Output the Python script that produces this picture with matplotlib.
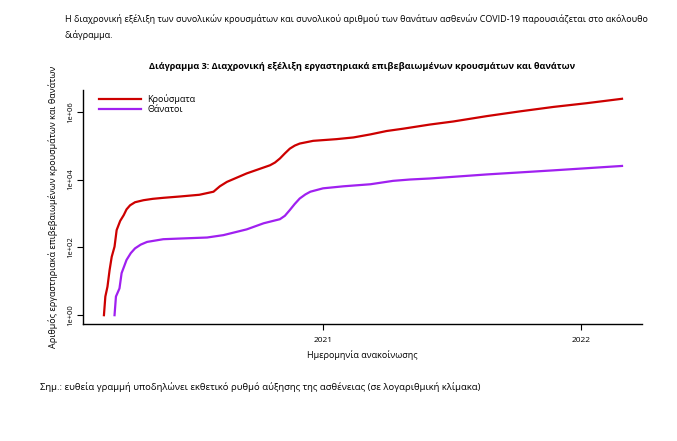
import numpy as np
import pandas as pd
import matplotlib
matplotlib.use("Agg")
import matplotlib.pyplot as plt

plt.rcParams['font.family'] = ['Open Sans', 'DejaVu Sans']

# cumulative confirmed cases (log10)
case_dates = ['2020-02-26', '2020-02-28', '2020-03-02', '2020-03-05', '2020-03-08',
              '2020-03-12', '2020-03-15', '2020-03-20', '2020-03-25', '2020-03-29',
              '2020-04-03', '2020-04-10', '2020-04-22', '2020-05-05', '2020-05-20',
              '2020-06-13', '2020-07-10', '2020-07-30', '2020-08-08', '2020-08-18',
              '2020-09-15', '2020-10-18', '2020-10-25', '2020-11-01', '2020-11-08',
              '2020-11-15', '2020-11-22', '2020-11-29', '2020-12-18',
              '2021-01-20', '2021-02-13', '2021-03-09', '2021-04-01', '2021-04-25',
              '2021-06-01', '2021-07-04', '2021-08-21', '2021-10-07', '2021-11-23',
              '2022-01-09', '2022-02-28']
case_log = [0.0, 0.55, 0.84, 1.33, 1.72,
            2.02, 2.51, 2.78, 2.95, 3.12,
            3.24, 3.33, 3.39, 3.43, 3.46,
            3.50, 3.55, 3.64, 3.80, 3.93,
            4.18, 4.42, 4.50, 4.62, 4.77,
            4.91, 5.00, 5.06, 5.14,
            5.19, 5.24, 5.33, 5.43, 5.50,
            5.62, 5.71, 5.87, 6.01, 6.14,
            6.25, 6.38]

# cumulative deaths (log10)
death_dates = ['2020-03-12', '2020-03-14', '2020-03-19', '2020-03-22', '2020-03-29',
               '2020-04-04', '2020-04-10', '2020-04-18', '2020-04-27', '2020-05-20',
               '2020-06-13', '2020-07-21', '2020-08-13', '2020-09-15', '2020-10-09',
               '2020-11-01', '2020-11-08', '2020-11-15', '2020-11-22', '2020-11-29',
               '2020-12-07', '2020-12-14', '2021-01-01', '2021-01-30', '2021-03-09',
               '2021-04-10', '2021-05-04', '2021-06-01', '2021-08-21', '2021-11-23',
               '2022-02-28']
death_log = [0.0, 0.55, 0.79, 1.24, 1.63,
             1.83, 1.97, 2.08, 2.16, 2.24,
             2.26, 2.29, 2.36, 2.53, 2.71,
             2.83, 2.93, 3.10, 3.28, 3.44,
             3.56, 3.64, 3.74, 3.80, 3.86,
             3.96, 4.00, 4.03, 4.15, 4.27,
             4.40]

ytick_vals = [1, 1e2, 1e4, 1e6]
ytick_labels = ['1e+00', '1e+02', '1e+04', '1e+06']
xtick_dates = ['2021-01-01', '2022-01-01']
xtick_labels = ['2021', '2022']

fig = plt.figure(figsize=(6.77, 4.41), dpi=100)
ax = fig.add_axes([0.1222, 0.2653, 0.8258, 0.5307])

ax.plot(pd.to_datetime(case_dates), 10 ** np.array(case_log), color='#CD0000', lw=1.6,
        label='Κρούσματα', solid_joinstyle='round')
ax.plot(pd.to_datetime(death_dates), 10 ** np.array(death_log), color='#A020F0', lw=1.6,
        label='Θάνατοι', solid_joinstyle='round')

ax.set_yscale('log')
ax.set_ylim(10 ** -0.26, 10 ** 6.64)
ax.set_xlim(pd.Timestamp('2020-01-27'), pd.Timestamp('2022-03-28'))
ax.set_yticks(ytick_vals)
ax.set_yticklabels(ytick_labels, rotation=90, va='center', fontsize=5.5)
ax.minorticks_off()
ax.set_xticks(pd.to_datetime(xtick_dates))
ax.set_xticklabels(xtick_labels, fontsize=6)
ax.tick_params(axis='y', length=4, width=0.8, pad=2)
ax.tick_params(axis='x', length=4, width=0.8, pad=5)

for s in ['top', 'right']:
    ax.spines[s].set_visible(False)
for s in ['left', 'bottom']:
    ax.spines[s].set_linewidth(1.0)

ax.set_xlabel('Ημερομηνία ανακοίνωσης', fontsize=6.5, labelpad=5)
ax.set_ylabel('Αριθμός εργαστηριακά επιβεβαιωμένων κρουσμάτων και θανάτων', fontsize=6.5, labelpad=7)

ax.legend(loc='upper left', bbox_to_anchor=(0.015, 1.015), frameon=False, fontsize=6.5,
          handlelength=4.6, handletextpad=0.7, labelspacing=0.05)

fig.text(0.535, 0.849, 'Διάγραμμα 3: Διαχρονική εξέλιξη εργαστηριακά επιβεβαιωμένων κρουσμάτων και θανάτων',
         ha='center', va='center', fontsize=6.55, fontweight='bold')

fig.text(0.096, 0.957, 'Η διαχρονική εξέλιξη των συνολικών κρουσμάτων και συνολικού αριθμού των θανάτων '
         'ασθενών COVID-19 παρουσιάζεται στο ακόλουθο', ha='left', va='center', fontsize=6.5)
fig.text(0.096, 0.921, 'διάγραμμα.', ha='left', va='center', fontsize=6.5)

fig.text(0.059, 0.122, 'Σημ.: ευθεία γραμμή υποδηλώνει εκθετικό ρυθμό αύξησης της ασθένειας '
         '(σε λογαριθμική κλίμακα)', ha='left', va='center', fontsize=6.8)

fig.savefig('out.png', dpi=100)
